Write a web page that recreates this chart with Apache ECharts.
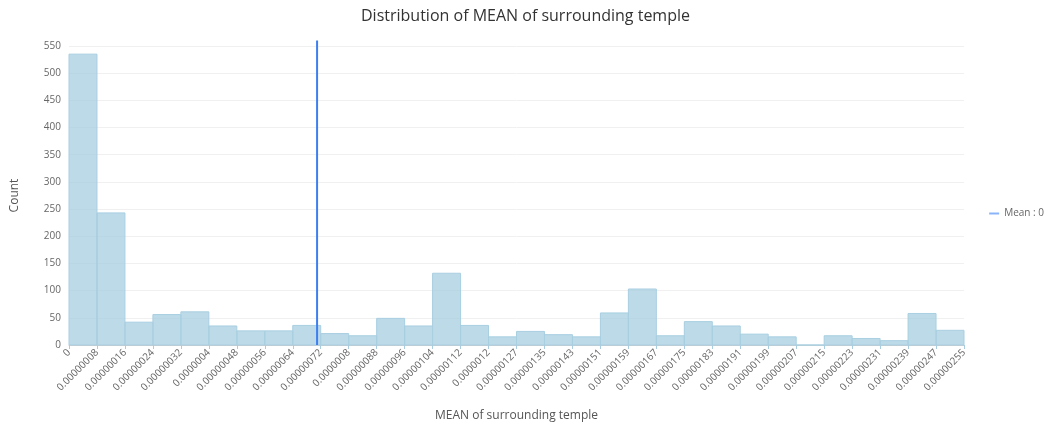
<!DOCTYPE html>
<html>
<head>
<meta charset="utf-8">
<script src="https://cdn.jsdelivr.net/npm/echarts@6/dist/echarts.min.js"></script>
<style>
  html, body { margin: 0; padding: 0; background: #fff; }
  #chart { width: 1051px; height: 427px; }
</style>
</head>
<body>
<div id="chart"></div>
<script>
// bin boundary labels (33 edges for 32 bins)
const tickLabels = ['0', '0.00000008', '0.00000016', '0.00000024', '0.00000032', '0.0000004',
  '0.00000048', '0.00000056', '0.00000064', '0.00000072', '0.0000008', '0.00000088',
  '0.00000096', '0.00000104', '0.00000112', '0.0000012', '0.00000127', '0.00000135',
  '0.00000143', '0.00000151', '0.00000159', '0.00000167', '0.00000175', '0.00000183',
  '0.00000191', '0.00000199', '0.00000207', '0.00000215', '0.00000223', '0.00000231',
  '0.00000239', '0.00000247', '0.00000255'];
// count per bin
const counts = [535, 243, 42, 56, 61, 35, 26, 26, 36, 21, 17, 49, 35, 132, 36, 15,
  25, 19, 15, 59, 103, 17, 43, 35, 20, 15, 0, 17, 12, 8, 58, 27];
// mean position, in bin units along the axis
const meanPos = 8.87;
const meanName = 'Mean : 0';

let chart = echarts.init(document.getElementById('chart'));
let binData = counts.map((c, i) => [i, i + 1, c]);

let option = {
    animation: false,
    textStyle: { fontFamily: 'Open Sans' },
    title: {
        text: 'Distribution of MEAN of surrounding temple',
        left: 'center',
        top: 3,
        textStyle: { fontSize: 16, fontWeight: 'normal', color: '#333', fontFamily: 'Open Sans' }
    },
    legend: {
        right: 2,
        top: 'middle',
        orient: 'vertical',
        itemWidth: 10,
        itemHeight: 2,
        icon: 'rect',
        textStyle: { fontSize: 10, color: '#666' },
        data: [meanName]
    },
    grid: { left: 69, right: 87, top: 46, bottom: 82, outerBoundsMode: 'none' },
    xAxis: {
        type: 'value',
        min: 0,
        max: 32,
        interval: 1,
        name: 'MEAN of surrounding temple',
        nameLocation: 'middle',
        nameGap: 65,
        nameTextStyle: { fontSize: 12, color: '#555' },
        axisLine: { lineStyle: { color: '#ccc' } },
        axisTick: { lineStyle: { color: '#a8cde0' }, length: 4 },
        splitLine: { show: false },
        axisLabel: {
            rotate: 45,
            fontSize: 10,
            color: '#666',
            margin: 6,
            formatter: v => tickLabels[Math.round(v)]
        }
    },
    yAxis: {
        type: 'value',
        min: 0,
        max: 550,
        interval: 50,
        name: 'Count',
        nameLocation: 'middle',
        nameGap: 48,
        nameTextStyle: { fontSize: 12, color: '#555' },
        axisLine: { show: false },
        axisTick: { show: false },
        axisLabel: { fontSize: 10, color: '#666' },
        splitLine: { lineStyle: { color: '#f0f0f0' } }
    },
    series: [
        {
            name: 'Count',
            type: 'custom',
            data: binData,
            renderItem: (params, api) => {
                let p0 = api.coord([api.value(0), api.value(2)]);
                let p1 = api.coord([api.value(1), 0]);
                return {
                    type: 'rect',
                    shape: { x: p0[0], y: p0[1], width: p1[0] - p0[0], height: p1[1] - p0[1] },
                    style: { fill: 'rgba(160,202,222,0.7)', stroke: '#a9cfe1', lineWidth: 1 }
                };
            },
            encode: { x: [0, 1], y: 2 }
        },
        {
            name: meanName,
            type: 'line',
            symbol: 'none',
            clip: false,
            data: [[meanPos, 0], [meanPos, 560]],
            lineStyle: { color: '#3b7ff0', width: 2 },
            itemStyle: { color: '#8ab4f8' },
            z: 5
        }
    ]
};
chart.setOption(option);
window.addEventListener('resize', () => {
    chart.resize()
})
</script>
</body>
</html>
